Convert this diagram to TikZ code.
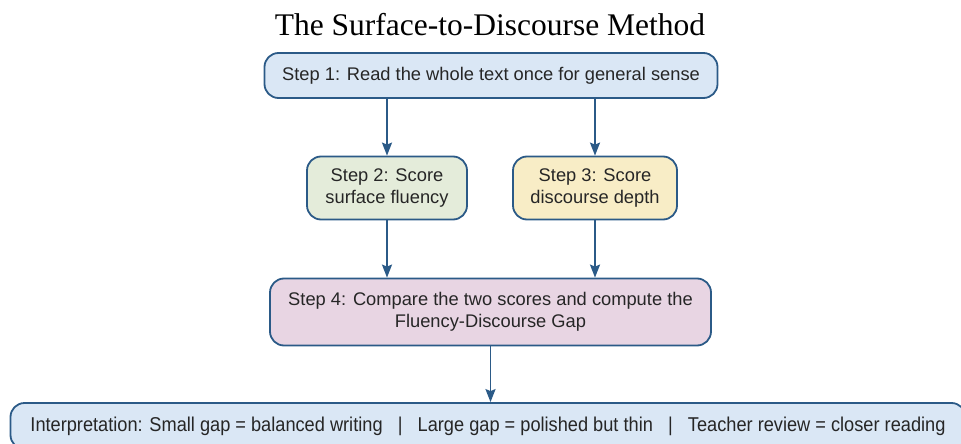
\documentclass[tikz,border=0pt]{standalone}
\usepackage{fontspec}
\setmainfont{Liberation Sans}
\newfontfamily\titlefont{Liberation Serif}
\newfontfamily\narrowfont[FakeStretch=0.91]{Liberation Sans}
\usepackage{xcolor}
\usetikzlibrary{arrows.meta}

\definecolor{edgeblue}{HTML}{2B5A87}
\definecolor{fillblue}{HTML}{DAE7F5}
\definecolor{fillgreen}{HTML}{E4ECDA}
\definecolor{fillyellow}{HTML}{F8EDC6}
\definecolor{fillpink}{HTML}{E8D5E3}

\begin{document}
\begin{tikzpicture}[x=1pt, y=-1pt,
  stepbox/.style={draw=edgeblue, line width=1.8pt, rounded corners=14pt,
    align=center, font=\fontsize{18.3}{22.5}\selectfont, text=black!85, inner sep=0pt},
  arr/.style={-{Stealth[length=13pt,width=10pt,inset=2pt]}, draw=edgeblue, line width=1.8pt}]
  \useasboundingbox (0,0) rectangle (961,444);
  \node (title) at (490,25) {\titlefont\fontsize{31.5}{36}\selectfont The Surface-to-Discourse Method};
  \node[stepbox, fill=fillblue, minimum width=453pt, minimum height=45pt] (s1) at (491,75.5)
    {Step 1: Read the whole text once for general sense};
  \node[stepbox, fill=fillgreen, minimum width=160pt, minimum height=63pt] (s2) at (387,188)
    {Step 2: Score\\surface fluency};
  \node[stepbox, fill=fillyellow, minimum width=164pt, minimum height=63pt] (s3) at (595,188)
    {Step 3: Score\\discourse depth};
  \node[stepbox, fill=fillpink, minimum width=441pt, minimum height=67pt] (s4) at (490.5,312)
    {Step 4: Compare the two scores and compute the\\Fluency-Discourse Gap};
  \node[stepbox, fill=fillblue, minimum width=955pt, minimum height=46pt] (interp) at (488,426)
    {\narrowfont\fontsize{20}{24}\selectfont Interpretation: Small gap = balanced writing \ \ | \ \ Large gap = polished but thin \ \ | \ \ Teacher review = closer reading};
  % arrows
  \draw[arr] (s2.north |- s1.south) -- (s2.north);
  \draw[arr] (s3.north |- s1.south) -- (s3.north);
  \draw[arr] (s2.south) -- (s2.south |- s4.north);
  \draw[arr] (s3.south) -- (s3.south |- s4.north);
  \draw[arr] (s4.south) -- (s4.south |- interp.north);
\end{tikzpicture}
\end{document}
